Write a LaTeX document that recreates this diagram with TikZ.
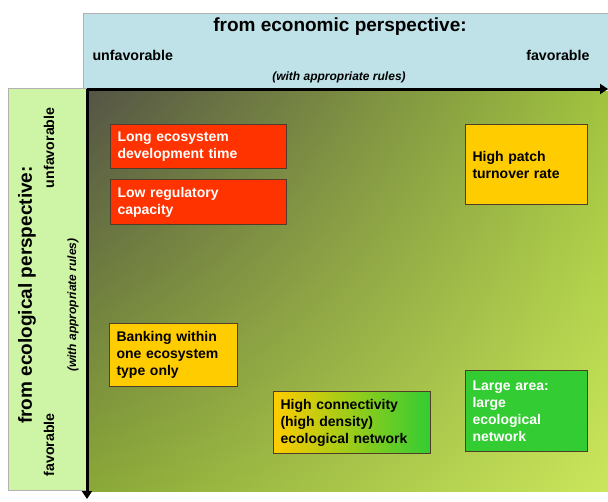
\documentclass[tikz,border=0pt]{standalone}
\usepackage{fontspec}
\setmainfont{Liberation Sans}
\usepackage{xcolor}
\usetikzlibrary{positioning,arrows.meta,shadings}

\definecolor{econblue}{RGB}{190,226,232}
\definecolor{ecolgreen}{RGB}{206,245,165}
\definecolor{boxred}{RGB}{255,51,0}
\definecolor{boxyellow}{RGB}{255,204,0}
\definecolor{boxgreen}{RGB}{51,204,51}
\definecolor{boxedge}{RGB}{80,60,40}
\definecolor{fieldTL}{RGB}{85,85,70}
\definecolor{fieldTR}{RGB}{160,195,62}
\definecolor{fieldBL}{RGB}{138,168,56}
\definecolor{fieldBR}{RGB}{202,230,92}

\begin{document}
\begin{tikzpicture}[
    x=1pt, y=-1pt,
    header/.style={draw=gray!60, line width=0.6pt},
    factor/.style={draw=boxedge, line width=1pt, anchor=north west, align=left, inner xsep=7pt,
        font=\bfseries\fontsize{14}{17}\selectfont},
    title/.style={font=\bfseries\fontsize{19}{22}\selectfont},
    side/.style={font=\bfseries\fontsize{14.2}{16}\selectfont},
    rules/.style={font=\bfseries\itshape\fontsize{12}{14}\selectfont},
    axis/.style={line width=3pt, -{Triangle[length=8pt,width=10pt]}}
]
    \useasboundingbox (0,0) rectangle (608,501);

    % Headers
    \draw[header, fill=econblue] (83,13) rectangle (608,89);
    \draw[header, fill=ecolgreen] (8,88) rectangle (86,490);

    \node[title] (econ) at (340,27) {from economic perspective:};
    \node[side, anchor=west] (econbad) at (89,55) {unfavorable};
    \node[side, anchor=east] (econgood) at (593,55) {favorable};
    \node[rules] (econrules) at (339,77) {(with appropriate rules)};

    \node[title, rotate=90] (ecol) at (27,295) {from ecological perspective:};
    \node[side, rotate=90, anchor=east] (ecolbad) at (49,104) {unfavorable};
    \node[side, rotate=90, anchor=west] (ecolgood) at (49,480) {favorable};
    \node[rules, rotate=90] (ecolrules) at (73,305) {(with appropriate rules)};

    % Field
    \shade[upper left=fieldTL, upper right=fieldTR, lower left=fieldBL, lower right=fieldBR]
        (88,91) rectangle (608,491);

    % Factors
    \node[factor, fill=boxred, text=white, minimum width=176pt, minimum height=44pt, text width=162pt] (devtime) at (110,124)
        {Long ecosystem\\development time};
    \node[factor, fill=boxred, text=white, minimum width=176pt, minimum height=45pt, text width=162pt, below=10pt of devtime.south west, anchor=north west] (capacity)
        {Low regulatory\\capacity};
    \node[factor, fill=boxyellow, minimum width=122pt, minimum height=80pt, text width=108pt] (turnover) at (465,124)
        {High patch\\turnover rate};
    \node[factor, fill=boxyellow, minimum width=128pt, minimum height=63pt, text width=114pt] (banking) at (109,323)
        {Banking within\\one ecosystem\\type only};
    \node[factor, left color=boxyellow, right color=boxgreen, minimum width=157pt, minimum height=62pt, text width=143pt] (connect) at (273,391)
        {High connectivity\\(high density)\\ecological network};
    \node[factor, fill=boxgreen, text=white, minimum width=122pt, minimum height=81pt, text width=108pt] (largearea) at (465,370)
        {Large area:\\large\\ecological\\network};

    % Axes
    \coordinate (origin) at (87,89);
    \coordinate (econend) at (608,89);
    \coordinate (ecolend) at (87,499);
    \draw[axis] (origin) -- (econend);
    \draw[axis] (origin) -- (ecolend);

\end{tikzpicture}
\end{document}
